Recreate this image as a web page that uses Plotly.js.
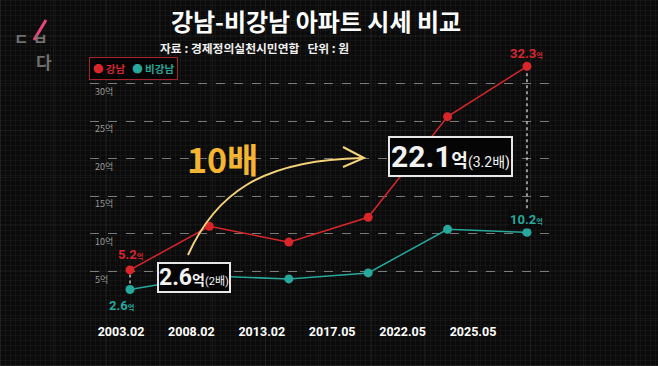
<!DOCTYPE html>
<html><head><meta charset="utf-8">
<script src="https://cdn.plot.ly/plotly-3.0.1.min.js"></script>
<style>
html,body{margin:0;padding:0;width:658px;height:366px;overflow:hidden;}
body{background-color:#0b0b0b;
background-image:
 repeating-linear-gradient(90deg, rgba(255,255,255,0.035) 0 1px, transparent 1px 5px),
 repeating-linear-gradient(0deg, rgba(255,255,255,0.03) 0 1px, transparent 1px 5px),
 repeating-linear-gradient(90deg, rgba(255,255,255,0.05) 0 1px, transparent 1px 53px),
 repeating-linear-gradient(0deg, rgba(255,255,255,0.04) 0 1px, transparent 1px 47px);}
#chart{width:658px;height:366px;}
</style></head>
<body><div id="chart"></div>
<script>
// ---- data ----
const dates = ["2003.02","2008.02","2013.02","2017.05","2022.05","2025.05"];
const gangnam = [5.2, 11.0, 8.9, 12.2, 25.6, 32.3];
const nonGangnam = [2.6, 4.4, 4.0, 4.8, 10.6, 10.2];
const seriesNames = ["강남", "비강남"];
const yTicks = [5, 10, 15, 20, 25, 30];
const yTickText = ["5억","10억","15억","20억","25억","30억"];

// ---- style ----
const RED = "#d8262b", TEAL = "#27a89c";
const L = 90, R = 550, T = 46, B = 309;           // plot area in px
const px = (x) => (x - L) / (R - L);
const py = (y) => (B - y) / (B - T);
const last = dates.length - 1;
const diff = (i) => (gangnam[i] - nonGangnam[i]).toFixed(1);
const ratio = (i) => { const r = gangnam[i] / nonGangnam[i]; return (Math.round(r*10)/10).toString(); };
const unit = () => `<span style="font-size:0.55em">억</span>`;

const traces = [
  {x: dates, y: gangnam, type: "scatter", mode: "lines+markers", name: seriesNames[0],
   line: {color: RED, width: 1.5}, marker: {color: RED, size: 9}, showlegend: false, hoverinfo: "skip"},
  {x: dates, y: nonGangnam, type: "scatter", mode: "lines+markers", name: seriesNames[1],
   line: {color: TEAL, width: 1.5}, marker: {color: TEAL, size: 9}, showlegend: false, hoverinfo: "skip"},
  {x: dates.map((d, i) => i), y: dates.map(() => null), xaxis: "x2", yaxis: "y", type: "scatter",
   mode: "markers", showlegend: false, hoverinfo: "skip"}
];

const pathPx = [[188,255],[215,195],[260,160],[362,158]];
const arrowPath = `M ${px(pathPx[0][0])} ${py(pathPx[0][1])} C ${px(pathPx[1][0])} ${py(pathPx[1][1])} ${px(pathPx[2][0])} ${py(pathPx[2][1])} ${px(pathPx[3][0])} ${py(pathPx[3][1])}`;
const headPath = `M ${px(343)} ${py(147)} L ${px(364)} ${py(158)} L ${px(343)} ${py(167)}`;

const A = (o) => Object.assign({showarrow: false, xanchor: "center", yanchor: "middle"}, o);

const layout = {
  width: 658, height: 366,
  margin: {l: L, r: 658 - R, t: T, b: 366 - B, pad: 0},
  paper_bgcolor: "rgba(0,0,0,0)", plot_bgcolor: "rgba(0,0,0,0)",
  font: {family: "Roboto, 'Noto Sans CJK KR', sans-serif", color: "#ffffff"},
  title: {text: "<b>강남-비강남 아파트 시세 비교</b>", x: 316/658, xanchor: "center",
          y: 1 - 23/366, yanchor: "middle",
          font: {family: "'Noto Sans CJK KR', sans-serif", size: 24, color: "#ffffff"}},
  xaxis: {type: "category", range: [-0.504, 5.29], showticklabels: false, showgrid: false,
          zeroline: false, showline: false, ticks: ""},
  xaxis2: {overlaying: "x", anchor: "y", side: "bottom", range: [-0.44, 6.094],
           tickvals: dates.map((d, i) => i), ticktext: dates, showgrid: false, zeroline: false,
           showline: false, ticks: "", ticklabelstandoff: 13,
           tickfont: {family: "Roboto, sans-serif", size: 12.5, color: "#ffffff", weight: 700}},
  yaxis: {range: [0, 35], tickvals: yTicks, ticktext: yTickText, showgrid: true,
          gridcolor: "rgba(210,210,210,0.55)", griddash: "dash", gridwidth: 1,
          zeroline: false, showline: false, ticks: "", ticklabelposition: "inside",
          ticklabelshift: 8, ticklabelstandoff: 2,
          tickfont: {family: "'Noto Sans CJK KR', sans-serif", size: 9, color: "#9a9a9a"}},
  shapes: [
    {type: "line", xref: "x", yref: "y", x0: 0, x1: 0, y0: nonGangnam[0], y1: gangnam[0],
     line: {color: "rgba(235,235,235,0.8)", width: 1.5, dash: "dot"}, layer: "below"},
    {type: "line", xref: "x", yref: "y", x0: last, x1: last, y0: nonGangnam[last], y1: gangnam[last],
     line: {color: "rgba(235,235,235,0.8)", width: 1.5, dash: "dot"}, layer: "below"},
    {type: "path", xref: "paper", yref: "paper", path: arrowPath, line: {color: "#f3d27a", width: 2}},
    {type: "path", xref: "paper", yref: "paper", path: headPath, line: {color: "#f3d27a", width: 2}},
    {type: "line", xref: "paper", yref: "paper", x0: px(34), x1: px(46), y0: py(40), y1: py(20),
     line: {color: "#e8457a", width: 3}}
  ],
  annotations: [
    A({xref: "paper", yref: "paper", x: px(158), y: py(47), xanchor: "left",
     text: "<b>자료 : 경제정의실천시민연합&nbsp;&nbsp;&nbsp;단위 : 원</b>",
     font: {family: "'Noto Sans CJK KR', sans-serif", size: 11.8, color: "#f0f0f0"}}),
    A({xref: "paper", yref: "paper", x: px(133), y: py(68),
     text: `<span style="color:${RED}">●</span> <span style="color:${RED}"><b>${seriesNames[0]}</b></span>&nbsp;&nbsp;&nbsp;<span style="color:${TEAL}">●</span> <span style="color:${TEAL}"><b>${seriesNames[1]}</b></span>`,
     bordercolor: "#a82428", borderwidth: 1, borderpad: 3, bgcolor: "rgba(0,0,0,0.7)",
     font: {family: "'Noto Sans CJK KR', sans-serif", size: 10.5}}),
    A({xref: "x", yref: "y", x: 0, y: gangnam[0], yshift: 15,
     text: `<b>${gangnam[0]}${unit()}</b>`, font: {size: 13, color: RED}}),
    A({xref: "x", yref: "y", x: 0, y: nonGangnam[0], yshift: -16, xshift: -9,
     text: `<b>${nonGangnam[0]}${unit()}</b>`, font: {size: 13, color: TEAL}}),
    A({xref: "x", yref: "y", x: last, y: gangnam[last], yshift: 13,
     text: `<b>${gangnam[last]}${unit()}</b>`, font: {size: 13, color: RED}}),
    A({xref: "x", yref: "y", x: last, y: nonGangnam[last], yshift: 13, bgcolor: "#0b0b0b",
     text: `<b>${nonGangnam[last]}${unit()}</b>`, font: {size: 13, color: TEAL}}),
    A({xref: "paper", yref: "paper", x: px(194), y: py(277),
     text: `<b>${diff(0)}</b><span style="font-size:14px"><b>억</b></span><span style="font-size:11px">(${ratio(0)}배)</span>`,
     bordercolor: "#e8e8e8", borderwidth: 2, borderpad: 0, bgcolor: "#050505",
     font: {family: "Roboto, 'Noto Sans CJK KR', sans-serif", size: 23, color: "#f2f2f2"}}),
    A({xref: "paper", yref: "paper", x: px(450), y: py(156),
     text: `<b>${diff(last)}</b><span style="font-size:18px"><b>억</b></span><span style="font-size:14px">(${ratio(last)}배)</span>`,
     bordercolor: "#e8e8e8", borderwidth: 2, borderpad: 1, bgcolor: "#050505",
     font: {family: "Roboto, 'Noto Sans CJK KR', sans-serif", size: 30, color: "#f2f2f2"}}),
    A({xref: "paper", yref: "paper", x: px(222), y: py(158),
     text: "<b>10배</b>", font: {family: "'Noto Sans CJK KR', sans-serif", size: 34, color: "#f5b530"}}),
    A({xref: "paper", yref: "paper", x: px(21), y: py(38),
     text: "<b>ㄷ</b>", font: {family: "'Noto Sans CJK KR', sans-serif", size: 16, color: "#707070"}}),
    A({xref: "paper", yref: "paper", x: px(40), y: py(38),
     text: "<b>ㅂ</b>", font: {family: "'Noto Sans CJK KR', sans-serif", size: 16, color: "#707070"}}),
    A({xref: "paper", yref: "paper", x: px(44), y: py(61),
     text: "<b>다</b>", font: {family: "'Noto Sans CJK KR', sans-serif", size: 17, color: "#707070"}})
  ]
};

Plotly.newPlot("chart", traces, layout, {displayModeBar: false, staticPlot: true});
</script>
</body></html>
